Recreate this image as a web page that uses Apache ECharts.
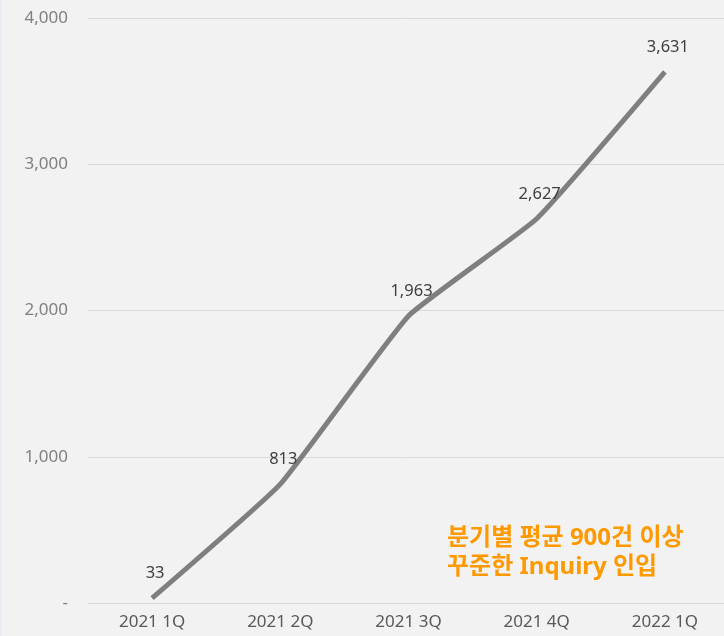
<!DOCTYPE html>
<html>
<head>
<meta charset="utf-8">
<script src="https://cdn.jsdelivr.net/npm/echarts@6/dist/echarts.min.js"></script>
<style>
html,body{margin:0;padding:0;background:#f2f2f2;}
#c{width:724px;height:636px;}
</style>
</head>
<body>
<div id="c"></div>
<script>
const categories = ['2021 1Q', '2021 2Q', '2021 3Q', '2021 4Q', '2022 1Q'];
const inquiries = [33, 813, 1963, 2627, 3631];
const yTicks = [0, 1000, 2000, 3000, 4000];
const noteLines = ['분기별 평균 900건 이상', '꾸준한 Inquiry 인입'];

const FONT = '"Noto Sans", "Noto Sans CJK KR", sans-serif';
const chart = echarts.init(document.getElementById('c'));
chart.setOption({
  backgroundColor: '#f2f2f2',
  animation: false,
  grid: { left: 88, width: 641, top: 18, height: 585, containLabel: false, outerBoundsMode: 'none' },
  xAxis: {
    type: 'category',
    data: categories,
    boundaryGap: true,
    axisLine: { show: true, lineStyle: { color: '#d9d9d9', width: 1 } },
    axisTick: { show: false },
    axisLabel: { color: '#595959', fontSize: 17, fontFamily: FONT, margin: 11 }
  },
  yAxis: {
    type: 'value',
    min: yTicks[0],
    max: yTicks[yTicks.length - 1],
    interval: 1000,
    axisLine: { show: false },
    axisTick: { show: false },
    splitLine: { lineStyle: { color: '#d9d9d9', width: 1 } },
    axisLabel: {
      color: '#808080', fontSize: 17, fontFamily: FONT, margin: 20,
      formatter: v => v === 0 ? '-' : v.toLocaleString('en-US')
    }
  },
  series: [{
    type: 'line',
    data: inquiries,
    smooth: 0.12,
    symbol: 'circle',
    symbolSize: 1,
    showSymbol: true,
    itemStyle: { color: 'rgba(0,0,0,0)' },
    lineStyle: { color: '#7f7f7f', width: 5 },
    label: {
      show: true, position: 'top', distance: 16, offset: [3, 0],
      color: '#404040', fontSize: 16.5, fontFamily: FONT,
      formatter: p => p.value.toLocaleString('en-US')
    }
  }],
  graphic: [
    { type: 'rect', left: 0, top: 0, shape: { width: 2, height: 636 }, style: { fill: '#e8edf3' } },
    {
      type: 'text', left: 447, top: 524,
      style: {
        text: noteLines.join('\n'), fill: '#ff9900',
        font: 'bold 24px "Noto Sans", "Noto Sans CJK KR", sans-serif', lineHeight: 29
      }
    }
  ]
});
</script>
</body>
</html>
